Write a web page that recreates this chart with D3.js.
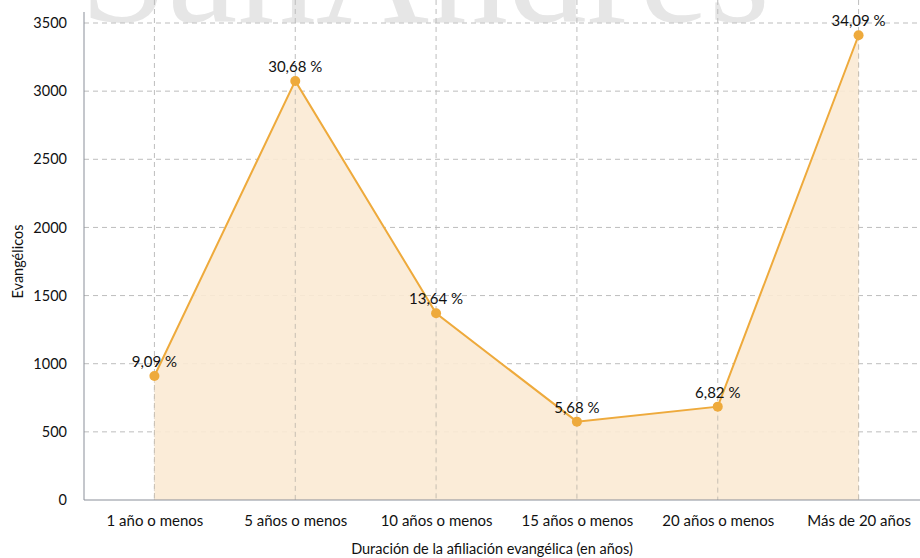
<!DOCTYPE html>
<html>
<head>
<meta charset="utf-8">
<script src="https://cdn.jsdelivr.net/npm/d3@7"></script>
<style>
  html, body { margin: 0; padding: 0; background: #fff; }
  svg { display: block; font-family: Lato, "Noto Sans", sans-serif; }
</style>
</head>
<body>
<div id="chart"></div>
<script>
// data
const categories = ['1 año o menos', '5 años o menos', '10 años o menos', '15 años o menos', '20 años o menos', 'Más de 20 años'];
const values = [910, 3075, 1370, 575, 685, 3410];
const percentLabels = ['9,09 %', '30,68 %', '13,64 %', '5,68 %', '6,82 %', '34,09 %'];
const yTicks = [0, 500, 1000, 1500, 2000, 2500, 3000, 3500];

const width = 920, height = 558;
const margin = { left: 84, top: 23, bottom: 58 };
const plotRight = 929;

const svg = d3.select('#chart').append('svg')
  .attr('width', width)
  .attr('height', height);

// watermark
svg.append('text')
  .attr('x', 80)
  .attr('y', 22)
  .attr('textLength', 690)
  .attr('lengthAdjust', 'spacingAndGlyphs')
  .attr('font-family', '"Liberation Serif", "DejaVu Serif", serif')
  .attr('font-size', 150)
  .attr('fill', '#e6e6e6')
  .text('SanAndres');

const x = d3.scalePoint()
  .domain(categories)
  .range([margin.left, plotRight])
  .padding(0.5);

const y = d3.scaleLinear()
  .domain([0, 3500])
  .range([height - margin.bottom, margin.top]);

const data = categories.map((c, i) => ({ cat: c, v: values[i], label: percentLabels[i] }));

// horizontal grid
svg.append('g')
  .selectAll('line')
  .data(yTicks.filter(d => d > 0))
  .enter().append('line')
  .attr('x1', margin.left).attr('x2', width)
  .attr('y1', d => y(d)).attr('y2', d => y(d))
  .attr('stroke', '#bdbdbd')
  .attr('stroke-dasharray', '5,4');

// vertical grid
svg.append('g')
  .selectAll('line')
  .data(categories)
  .enter().append('line')
  .attr('x1', d => x(d)).attr('x2', d => x(d))
  .attr('y1', 0).attr('y2', y(0))
  .attr('stroke', '#bdbdbd')
  .attr('stroke-dasharray', '5,4');

// area
svg.append('path')
  .datum(data)
  .attr('fill', '#fbead4')
  .attr('fill-opacity', 0.9)
  .attr('d', d3.area().x(d => x(d.cat)).y0(y(0)).y1(d => y(d.v)));

// vertical grid showing through the area
svg.append('g')
  .selectAll('line')
  .data(data)
  .enter().append('line')
  .attr('x1', d => x(d.cat)).attr('x2', d => x(d.cat))
  .attr('y1', d => y(d.v)).attr('y2', y(0))
  .attr('stroke', '#c8c0b4')
  .attr('stroke-dasharray', '5,4');

svg.append('path')
  .datum(data)
  .attr('fill', 'none')
  .attr('stroke', '#eeaa3c')
  .attr('stroke-width', 2)
  .attr('d', d3.line().x(d => x(d.cat)).y(d => y(d.v)));

svg.append('g')
  .selectAll('circle')
  .data(data)
  .enter().append('circle')
  .attr('cx', d => x(d.cat))
  .attr('cy', d => y(d.v))
  .attr('r', 5)
  .attr('fill', '#eeaa3c');

svg.append('g')
  .selectAll('text')
  .data(data)
  .enter().append('text')
  .attr('x', d => x(d.cat))
  .attr('y', d => y(d.v) - 9)
  .attr('text-anchor', 'middle')
  .attr('font-size', 15)
  .attr('fill', '#111')
  .text(d => d.label);

// axes
const yAxis = svg.append('g')
  .attr('transform', `translate(${margin.left},0)`)
  .call(d3.axisLeft(y).tickValues(yTicks).tickFormat(d3.format('d')).tickSize(0).tickPadding(17));
yAxis.select('.domain').attr('stroke', '#8a8f99').attr('d', `M0,12V${y(0)}`);
yAxis.selectAll('text').attr('font-size', 14.5).attr('fill', '#111').attr('font-family', 'Lato, sans-serif');

const xAxis = svg.append('g')
  .attr('transform', `translate(0,${y(0)})`)
  .call(d3.axisBottom(x).tickSize(0).tickPadding(15));
xAxis.select('.domain').attr('stroke', '#8a8f99').attr('d', `M${margin.left},0H${width}`);
xAxis.selectAll('text').attr('font-size', 15).attr('fill', '#111').attr('font-family', 'Lato, sans-serif');

svg.append('text')
  .attr('transform', `translate(23,${(y(0) + y(3500)) / 2}) rotate(-90)`)
  .attr('text-anchor', 'middle')
  .attr('font-size', 14.5)
  .attr('fill', '#111')
  .text('Evangélicos');

svg.append('text')
  .attr('x', 492)
  .attr('y', 554)
  .attr('text-anchor', 'middle')
  .attr('font-size', 14.5)
  .attr('fill', '#111')
  .text('Duración de la afiliación evangélica (en años)');
</script>
</body>
</html>
